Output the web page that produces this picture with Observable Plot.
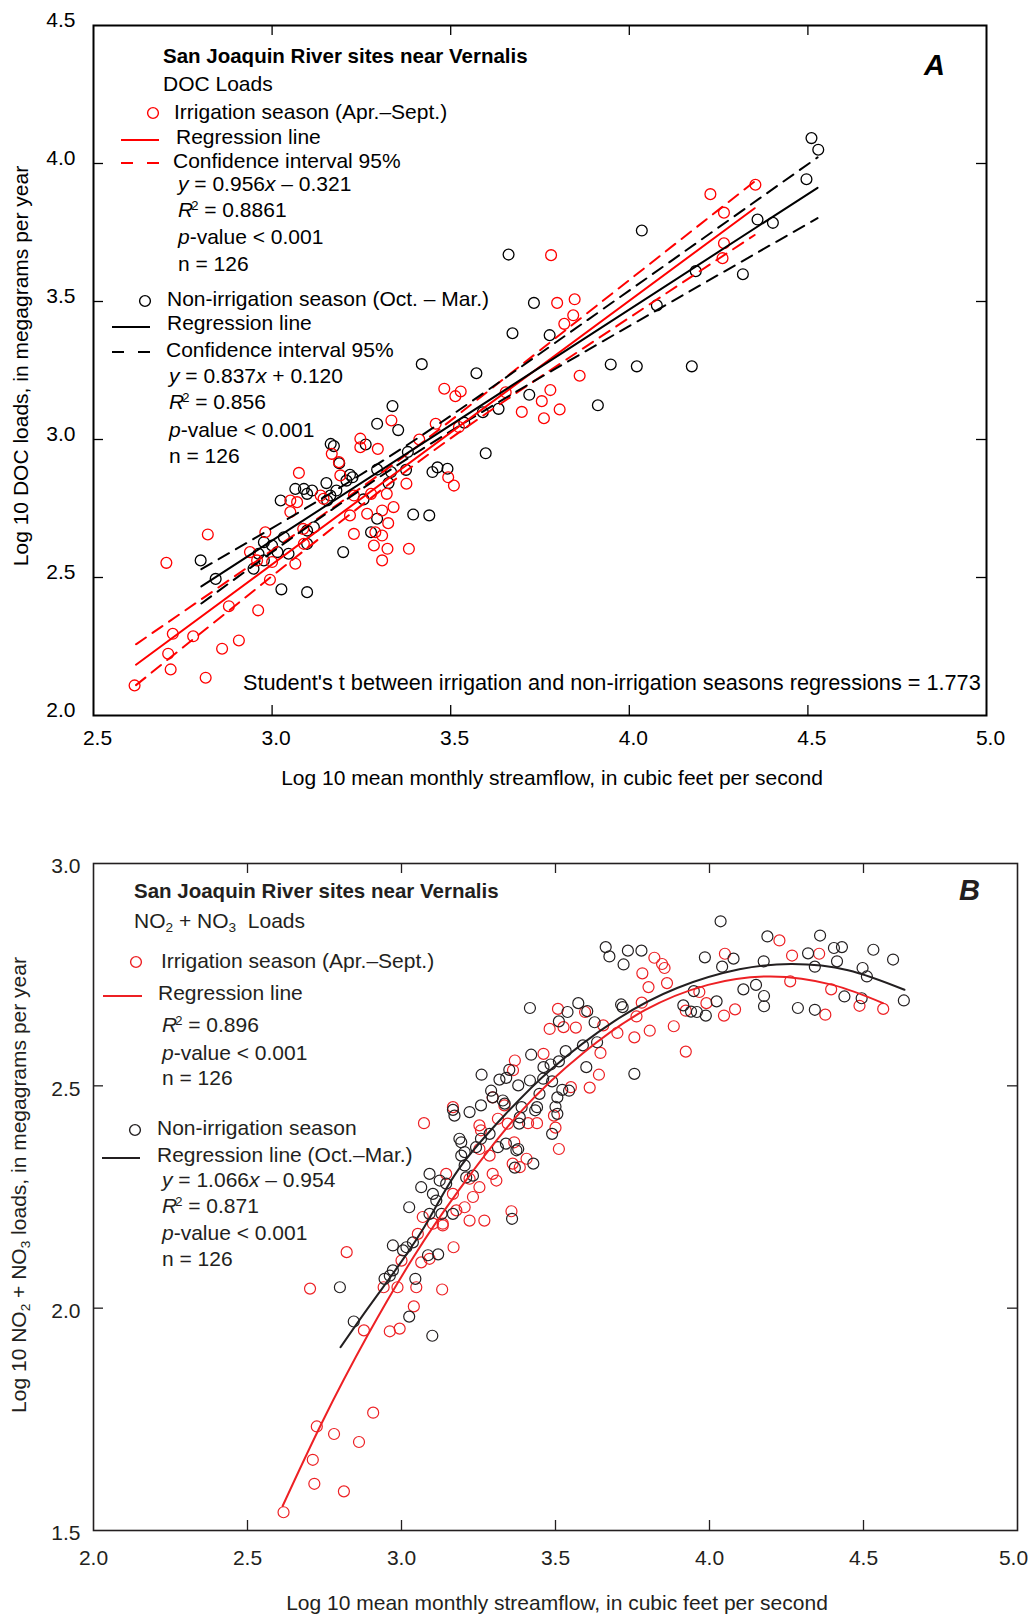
<!DOCTYPE html>
<html><head><meta charset="utf-8">
<script src="https://cdn.jsdelivr.net/npm/d3@7"></script>
<script src="https://cdn.jsdelivr.net/npm/@observablehq/plot@0.6"></script>
<style>
body{margin:0;background:#fff;}
#wrap{position:relative;width:1032px;height:1618px;font-family:"Liberation Sans",Arial,sans-serif;color:#000;overflow:hidden}
.t{position:absolute;white-space:nowrap;font-size:21px;line-height:24px;}
.rot{position:absolute;white-space:nowrap;font-size:21px;line-height:24px;transform:translate(-50%,-50%) rotate(-90deg);}
.ctr{position:absolute;white-space:nowrap;font-size:21px;line-height:24px;transform:translate(-50%,-50%);}
sup{font-size:0.62em;vertical-align:0.55em;line-height:0;margin-left:-2px}
sub{font-size:0.65em;vertical-align:-0.3em;line-height:0}
</style></head>
<body><div id="wrap">
<div id="pa" style="position:absolute;left:0;top:0;width:1032px"></div>
<div id="pb" style="position:absolute;left:0;top:800px;width:1032px"></div>
<svg id="leg" width="1032" height="1618" style="position:absolute;left:0;top:0;pointer-events:none"></svg>
</div>
<script>
// ---------- Panel A: DOC loads ----------
const docIrrX = [4.353,4.227,4.265,3.781,4.265,4.261,3.798,3.847,3.843,3.818,3.861,3.779,3.755,3.699,3.761,3.805,3.654,3.482,3.513,3.528,3.334,3.458,3.412,3.523,3.247,3.247,3.296,3.187,3.167,3.191,3.493,3.509,3.376,3.321,3.277,3.229,3.340,3.308,3.218,3.266,3.325,3.229,3.308,3.285,3.323,3.383,3.308,3.075,3.051,3.070,3.136,3.144,3.051,3.087,3.289,2.981,2.938,2.958,3.000,3.065,2.994,2.820,2.704,2.879,2.961,2.722,2.779,2.709,2.860,2.907,2.716,2.814,2.615,3.089];
const docIrrY = [3.923,3.889,3.822,3.668,3.711,3.657,3.495,3.508,3.450,3.419,3.231,3.179,3.139,3.100,3.077,3.109,3.171,3.184,3.157,3.174,3.069,3.057,3.000,3.045,3.003,2.972,2.966,2.918,2.948,2.870,2.863,2.833,2.840,2.803,2.803,2.797,2.755,2.743,2.725,2.731,2.697,2.658,2.652,2.616,2.604,2.604,2.562,2.879,2.779,2.773,2.797,2.785,2.737,2.676,2.664,2.664,2.592,2.562,2.556,2.550,2.492,2.656,2.553,2.396,2.381,2.296,2.287,2.224,2.242,2.272,2.167,2.137,2.109,2.622];
const docNonX = [4.510,4.529,4.496,4.359,4.402,4.035,3.662,4.186,4.318,3.733,4.077,3.673,3.777,3.948,4.021,4.175,3.720,3.912,3.419,3.572,3.337,3.294,3.353,3.590,3.634,3.538,3.598,3.164,3.173,3.262,3.380,3.188,3.294,3.333,3.375,3.449,3.463,3.491,3.152,3.218,3.225,3.208,3.326,3.180,3.163,3.154,3.256,3.395,3.440,3.294,3.277,3.199,3.065,3.089,3.098,3.112,3.024,3.117,3.098,3.033,2.977,3.000,3.015,3.046,2.962,2.977,2.948,3.098,2.800,2.842,3.098,3.026];
const docNonY = [4.092,4.050,3.943,3.797,3.785,3.757,3.670,3.610,3.599,3.495,3.486,3.385,3.378,3.272,3.265,3.265,3.162,3.124,3.273,3.240,3.121,3.057,3.034,3.099,3.111,3.061,2.950,2.984,2.976,2.982,2.955,2.914,2.891,2.882,2.890,2.882,2.899,2.894,2.842,2.872,2.863,2.851,2.842,2.815,2.797,2.779,2.783,2.728,2.725,2.713,2.664,2.592,2.821,2.821,2.803,2.815,2.779,2.682,2.670,2.646,2.628,2.616,2.592,2.586,2.586,2.562,2.532,2.622,2.562,2.495,2.447,2.457];
const docIrrLineX = [2.619, 4.351];
const docIrrLineY = [2.184, 3.838];
const docNonLineX = [2.802, 4.527];
const docNonLineY = [2.468, 3.912];
const docIrrCiX  = [2.619, 2.995, 3.341, 3.688, 4.351];
const docIrrCiUp = [2.258, 2.594, 2.912, 3.260, 3.935];
const docIrrCiLo = [2.110, 2.500, 2.852, 3.172, 3.741];
const docNonCiX  = [2.802, 3.094, 3.391, 3.790, 4.527];
const docNonCiUp = [2.530, 2.751, 2.991, 3.348, 4.022];
const docNonCiLo = [2.406, 2.679, 2.941, 3.254, 3.802];
const xTickLabelsA = [2.5, 3.0, 3.5, 4.0, 4.5, 5.0];
const yTickLabelsA = [2.0, 2.5, 3.0, 3.5, 4.0, 4.5];

// ---------- Panel B: NO2 + NO3 loads ----------
const no3IrrX = [4.227,4.050,4.268,4.356,4.262,4.395,4.487,4.564,4.376,4.047,4.083,3.821,3.846,3.854,3.782,3.802,3.862,3.780,3.763,3.884,3.806,3.756,3.701,3.655,3.923,3.990,3.967,3.923,3.508,3.481,3.526,3.566,3.596,3.461,3.646,3.641,3.611,3.368,3.362,3.550,3.495,3.500,3.511,3.406,3.384,3.440,3.411,3.357,3.073,3.167,3.253,3.258,3.313,3.345,3.286,3.296,3.308,3.361,3.366,3.253,3.221,3.253,3.232,3.205,3.221,3.269,3.167,3.178,3.145,3.134,3.102,2.822,3.296,3.334,2.703,2.942,2.987,3.048,3.132,3.169,3.064,3.091,3.000,3.053,3.134,3.040,2.878,2.962,2.994,2.908,2.725,2.781,2.862,2.712,2.717,2.813,2.617,3.069];
const no3IrrY = [2.827,2.797,2.793,2.797,2.735,2.717,2.680,2.673,2.660,2.658,2.672,2.788,2.774,2.765,2.753,2.722,2.731,2.687,2.656,2.634,2.624,2.609,2.619,2.636,2.577,2.686,2.711,2.669,2.673,2.628,2.632,2.631,2.666,2.572,2.574,2.525,2.496,2.557,2.535,2.497,2.433,2.406,2.358,2.336,2.317,2.416,2.416,2.218,2.416,2.452,2.411,2.400,2.426,2.415,2.343,2.302,2.287,2.325,2.373,2.358,2.291,2.272,2.250,2.227,2.197,2.197,2.257,2.220,2.302,2.190,2.190,2.126,2.474,2.456,2.044,2.047,2.047,2.047,2.042,2.137,2.103,2.111,2.107,2.167,2.186,2.004,1.950,1.948,1.954,1.765,1.734,1.717,1.699,1.659,1.605,1.588,1.541,2.205];
const no3NonX = [4.036,4.188,4.359,4.404,4.430,4.532,4.596,4.320,4.342,4.414,4.497,4.511,4.176,4.041,4.078,3.985,4.110,4.151,4.177,4.177,4.287,4.342,4.438,4.494,4.631,3.949,4.023,3.915,3.940,3.959,3.988,3.663,3.675,3.735,3.779,3.721,3.417,3.574,3.603,3.539,3.511,3.627,3.713,3.718,3.589,3.635,3.600,3.756,3.421,3.533,3.511,3.484,3.461,3.417,3.489,3.544,3.522,3.379,3.340,3.318,3.448,3.460,3.506,3.500,3.506,3.440,3.434,3.390,3.329,3.335,3.384,3.382,3.489,3.379,3.373,3.428,3.368,3.359,3.260,3.350,3.221,3.172,3.167,3.258,3.291,3.296,3.188,3.194,3.205,3.242,3.258,3.286,3.313,3.339,3.091,3.124,3.145,3.064,3.102,3.113,3.025,2.972,3.005,3.167,3.205,3.210,3.232,3.194,3.016,3.037,3.091,3.130,3.086,3.119,2.972,2.962,2.945,3.045,2.800,2.845,3.025,3.100];
const no3NonY = [2.870,2.836,2.838,2.810,2.812,2.806,2.784,2.798,2.768,2.780,2.765,2.746,2.780,2.768,2.786,2.789,2.717,2.727,2.702,2.679,2.675,2.671,2.701,2.697,2.692,2.713,2.690,2.681,2.667,2.666,2.658,2.812,2.791,2.804,2.804,2.773,2.675,2.686,2.668,2.666,2.645,2.643,2.683,2.677,2.591,2.598,2.542,2.527,2.570,2.578,2.555,2.548,2.542,2.512,2.510,2.489,2.491,2.501,2.518,2.514,2.482,2.516,2.474,2.453,2.437,2.452,2.445,2.452,2.467,2.460,2.429,2.415,2.392,2.358,2.355,2.325,2.316,2.201,2.525,2.536,2.441,2.433,2.446,2.456,2.489,2.474,2.381,2.343,2.351,2.362,2.381,2.392,2.362,2.370,2.302,2.287,2.280,2.272,2.257,2.242,2.227,2.141,2.130,2.212,2.321,2.294,2.298,2.373,2.137,2.148,2.212,2.212,2.119,2.121,2.085,2.073,2.066,2.066,2.047,1.970,1.981,1.938];
const no3IrrCurveX = [2.614, 2.742, 2.891, 3.039, 3.188, 3.386, 3.590, 3.790, 3.995, 4.198, 4.400, 4.563];
const no3IrrCurveY = [1.555, 1.743, 1.940, 2.115, 2.267, 2.441, 2.574, 2.670, 2.727, 2.746, 2.727, 2.686];
const no3NonCurveX = [2.802, 2.891, 2.990, 3.089, 3.188, 3.336, 3.487, 3.690, 3.895, 4.097, 4.268, 4.450, 4.633];
const no3NonCurveY = [1.912, 2.000, 2.095, 2.200, 2.315, 2.435, 2.538, 2.645, 2.720, 2.762, 2.774, 2.760, 2.716];
const xTickLabelsB = [2.0, 2.5, 3.0, 3.5, 4.0, 4.5, 5.0];
const yTickLabelsB = [1.5, 2.0, 2.5, 3.0];

// ---------- helpers ----------
const FONT = '"Liberation Sans", Arial, sans-serif';
const zipXY = (xs, ys) => xs.map((x, i) => ({x, y: ys[i]}));
const inner = (arr) => arr.slice(1, -1);
const RED_A = "#ff0000", BLK_A = "#000000";
const RED_B = "#ed2024", BLK_B = "#231f20";

function ticksAndLabels(xl, yl, fw, fh, opt) {
  const c = opt.color;
  return [
    Plot.ruleX(inner(xl), {stroke: c, strokeWidth: 1.3, insetTop: fh - 10}),
    Plot.ruleX(inner(xl), {stroke: c, strokeWidth: 1.3, insetBottom: fh - 10}),
    Plot.ruleY(inner(yl), {stroke: c, strokeWidth: 1.3, insetRight: fw - 10}),
    Plot.ruleY(inner(yl), {stroke: c, strokeWidth: 1.3, insetLeft: fw - 10}),
    Plot.text(xl.slice(0, -1), {x: d => d, frameAnchor: "bottom", textAnchor: "middle", lineAnchor: "middle", dy: opt.xdy, dx: opt.xdx, text: d => d.toFixed(1), fontSize: 21, fill: c}),
    Plot.text(xl.slice(-1), {x: d => d, frameAnchor: "bottom", textAnchor: "middle", lineAnchor: "middle", dy: opt.xdy, dx: opt.lastdx, text: d => d.toFixed(1), fontSize: 21, fill: c}),
    Plot.text(yl, {y: d => d, frameAnchor: "left", textAnchor: "end", lineAnchor: "middle", dx: opt.ydx, dy: opt.ydy, text: d => d.toFixed(1), fontSize: 21, fill: c})
  ];
}

// ---------- Plot A ----------
const WA = 1032, HA = 800, mA = {t: 25, r: 46, b: 85, l: 93};
const fwA = WA - mA.l - mA.r, fhA = HA - mA.t - mA.b;
const dash = "12,8";
const plotA = Plot.plot({
  width: WA, height: HA,
  marginTop: mA.t, marginRight: mA.r, marginBottom: mA.b, marginLeft: mA.l,
  x: {domain: [2.5, 5.0], axis: null},
  y: {domain: [2.0, 4.5], axis: null},
  style: {fontFamily: FONT, fontSize: "21px", color: "#000", background: "none"},
  marks: [
    ...ticksAndLabels(xTickLabelsA, yTickLabelsA, fwA, fhA, {color: "#000", xdy: 23, xdx: 4, lastdx: 4, ydx: -18, ydy: -5}),
    Plot.dot(zipXY(docNonX, docNonY), {x: "x", y: "y", r: 5.4, stroke: BLK_A, strokeWidth: 1.3, fill: "none"}),
    Plot.dot(zipXY(docIrrX, docIrrY), {x: "x", y: "y", r: 5.4, stroke: RED_A, strokeWidth: 1.3, fill: "none"}),
    Plot.line(zipXY(docIrrCiX, docIrrCiUp), {x: "x", y: "y", stroke: RED_A, strokeWidth: 2, strokeDasharray: dash, curve: "natural"}),
    Plot.line(zipXY(docIrrCiX, docIrrCiLo), {x: "x", y: "y", stroke: RED_A, strokeWidth: 2, strokeDasharray: dash, curve: "natural"}),
    Plot.line(zipXY(docNonCiX, docNonCiUp), {x: "x", y: "y", stroke: BLK_A, strokeWidth: 2, strokeDasharray: dash, curve: "natural"}),
    Plot.line(zipXY(docNonCiX, docNonCiLo), {x: "x", y: "y", stroke: BLK_A, strokeWidth: 2, strokeDasharray: dash, curve: "natural"}),
    Plot.line(zipXY(docIrrLineX, docIrrLineY), {x: "x", y: "y", stroke: RED_A, strokeWidth: 2}),
    Plot.line(zipXY(docNonLineX, docNonLineY), {x: "x", y: "y", stroke: BLK_A, strokeWidth: 2}),
    Plot.frame({stroke: "#000", strokeWidth: 2})
  ]
});
document.getElementById("pa").appendChild(plotA);

// ---------- Plot B ----------
const WB = 1032, HB = 818, mB = {t: 63, r: 15, b: 88, l: 93};
const fwB = WB - mB.l - mB.r, fhB = HB - mB.t - mB.b;
const plotB = Plot.plot({
  width: WB, height: HB,
  marginTop: mB.t, marginRight: mB.r, marginBottom: mB.b, marginLeft: mB.l,
  x: {domain: [2.0, 5.0], axis: null},
  y: {domain: [1.5, 3.0], axis: null},
  style: {fontFamily: FONT, fontSize: "21px", color: BLK_B, background: "none"},
  marks: [
    ...ticksAndLabels(xTickLabelsB, yTickLabelsB, fwB, fhB, {color: BLK_B, xdy: 28, xdx: 0, lastdx: -4, ydx: -13, ydy: 3}),
    Plot.dot(zipXY(no3IrrX, no3IrrY), {x: "x", y: "y", r: 5.5, stroke: RED_B, strokeWidth: 1.2, fill: "none"}),
    Plot.dot(zipXY(no3NonX, no3NonY), {x: "x", y: "y", r: 5.5, stroke: BLK_B, strokeWidth: 1.2, fill: "none"}),
    Plot.line(zipXY(no3IrrCurveX, no3IrrCurveY), {x: "x", y: "y", stroke: RED_B, strokeWidth: 2, curve: "natural"}),
    Plot.line(zipXY(no3NonCurveX, no3NonCurveY), {x: "x", y: "y", stroke: BLK_B, strokeWidth: 2, curve: "natural"}),
    Plot.frame({stroke: BLK_B, strokeWidth: 1.6})
  ]
});
document.getElementById("pb").appendChild(plotB);

// ---------- text overlays ----------
const wrap = document.getElementById("wrap");
function txt(html, x, cy, extra) {
  const d = document.createElement("div");
  d.className = "t"; d.innerHTML = html;
  d.style.left = x + "px"; d.style.top = (cy - 12) + "px";
  if (extra) d.style.cssText += extra;
  wrap.appendChild(d);
}
function ctr(html, cx, cy, cls, extra) {
  const d = document.createElement("div");
  d.className = cls; d.innerHTML = html;
  d.style.left = cx + "px"; d.style.top = cy + "px";
  if (extra) d.style.cssText += extra;
  wrap.appendChild(d);
}
const leg = d3.select("#leg");
function legCircle(x, y, c) { leg.append("circle").attr("cx", x).attr("cy", y).attr("r", 5.4).attr("fill", "none").attr("stroke", c).attr("stroke-width", 1.4); }
function legLine(x1, x2, y, c, dashed) {
  const l = leg.append("line").attr("x1", x1).attr("x2", x2).attr("y1", y).attr("y2", y).attr("stroke", c).attr("stroke-width", 2);
  if (dashed) l.attr("stroke-dasharray", "12,14");
}

// Panel A legend
txt("<b>San Joaquin River sites near Vernalis</b>", 163, 56, "font-size:20.5px");
txt("DOC Loads", 163, 84);
legCircle(153, 113, RED_A); txt("Irrigation season (Apr.–Sept.)", 174, 112);
legLine(121, 159, 140, RED_A, false); txt("Regression line", 176, 137);
legLine(121, 159, 163, RED_A, true); txt("Confidence interval 95%", 173, 161);
txt("<i>y</i> = 0.956<i>x</i> – 0.321", 178, 184);
txt("<i>R</i><sup>2</sup> = 0.8861", 178, 210);
txt("<i>p</i>-value &lt; 0.001", 178, 237);
txt("n = 126", 178, 264);
legCircle(145, 301, BLK_A); txt("Non-irrigation season (Oct. – Mar.)", 167, 299);
legLine(112, 150, 327, BLK_A, false); txt("Regression line", 167, 323);
legLine(112, 150, 352, BLK_A, true); txt("Confidence interval 95%", 166, 350);
txt("<i>y</i> = 0.837<i>x</i> + 0.120", 169, 376);
txt("<i>R</i><sup>2</sup> = 0.856", 169, 402);
txt("<i>p</i>-value &lt; 0.001", 169, 430);
txt("n = 126", 169, 456);
txt("Student's t between irrigation and non-irrigation seasons regressions = 1.773", 243, 683, "font-size:21.7px");
txt("<b><i>A</i></b>", 924, 62, "font-size:29px;line-height:30px");
ctr("Log 10 DOC loads, in megagrams per year", 21, 366, "rot");
ctr("Log 10 mean monthly streamflow, in cubic feet per second", 552, 778, "ctr");

// Panel B legend
txt("<b>San Joaquin River sites near Vernalis</b>", 134, 891, "font-size:20.5px;color:" + BLK_B);
txt("NO<sub>2</sub> + NO<sub>3</sub>&nbsp; Loads", 134, 921, "color:" + BLK_B);
legCircle(136, 962, RED_B); txt("Irrigation season (Apr.–Sept.)", 161, 961, "color:" + BLK_B);
legLine(103, 142, 996, RED_B, false); txt("Regression line", 158, 993, "color:" + BLK_B);
txt("<i>R</i><sup>2</sup> = 0.896", 162, 1025, "color:" + BLK_B);
txt("<i>p</i>-value &lt; 0.001", 162, 1053, "color:" + BLK_B);
txt("n = 126", 162, 1078, "color:" + BLK_B);
legCircle(135, 1130, BLK_B); txt("Non-irrigation season", 157, 1128, "color:" + BLK_B);
legLine(102, 140, 1158, BLK_B, false); txt("Regression line (Oct.–Mar.)", 157, 1155, "color:" + BLK_B);
txt("<i>y</i> = 1.066<i>x</i> – 0.954", 162, 1180, "color:" + BLK_B);
txt("<i>R</i><sup>2</sup> = 0.871", 162, 1206, "color:" + BLK_B);
txt("<i>p</i>-value &lt; 0.001", 162, 1233, "color:" + BLK_B);
txt("n = 126", 162, 1259, "color:" + BLK_B);
txt("<b><i>B</i></b>", 959, 887, "font-size:29px;line-height:30px;color:" + BLK_B);
ctr("Log 10 NO<sub>2</sub> + NO<sub>3</sub> loads, in megagrams per year", 19, 1185, "rot", "color:" + BLK_B);
ctr("Log 10 mean monthly streamflow, in cubic feet per second", 557, 1603, "ctr", "color:" + BLK_B);
</script>
</body></html>
